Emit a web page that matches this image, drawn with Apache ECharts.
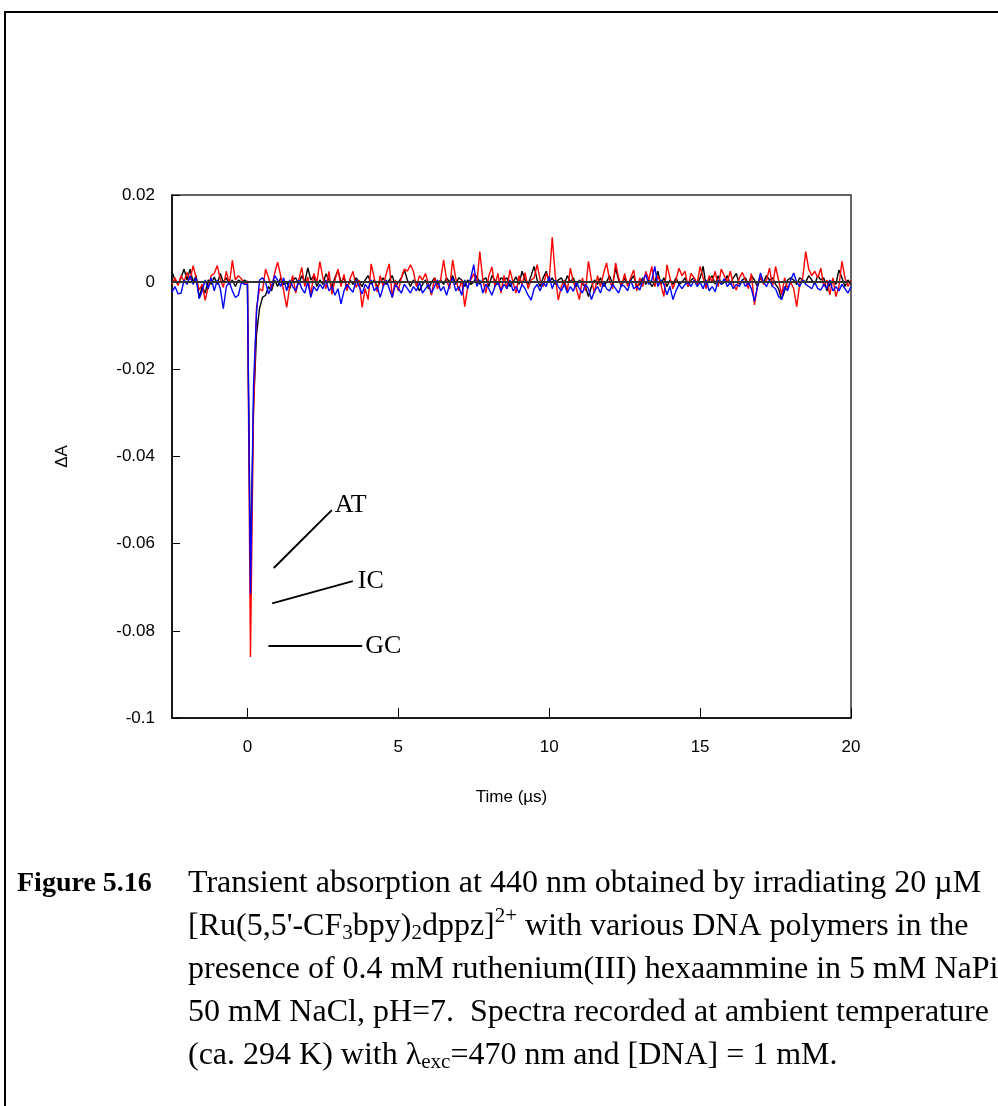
<!DOCTYPE html>
<html>
<head>
<meta charset="utf-8">
<script src="https://cdn.jsdelivr.net/npm/echarts@6/dist/echarts.min.js"></script>
<style>
  html, body { margin: 0; padding: 0; background: #ffffff; }
  #chart { width: 998px; height: 1106px; }
</style>
</head>
<body>
<div id="chart"></div>
<script>
// Transient absorption traces (ΔA in units of 1e-3), sampled every 0.1 µs starting at -2.5 µs
const sampleStart = -2.5;
const sampleStep = 0.1;

// GC polymer (red)
const gcMilli = [
  -0.5, 1.0, -0.8, 1.5, 0.2, 2.2, 0.5, 3.8, 1.0, -1.8,
  -0.5, -4.2, -1.0, 1.5, 2.0, 3.8, 0.8, -1.2, 2.5, -0.5,
  5.0, 0.5, 1.5, 0.8, -0.5, 0.3, -86.0, -30.0, -6.0, -1.5,
  -2.0, 3.0, 1.0, -1.5, 2.0, 4.6, 1.5, -2.0, -5.8, -1.0,
  1.5, -2.5, 0.5, 3.4, -1.0, 1.2, -3.0, 2.0, 0.0, 4.7,
  1.0, -1.5, 2.5, -2.8, 0.5, 3.0, -1.0, 1.8, -2.0, 0.8,
  2.5, -1.2, 0.5, -5.8, -1.5, -4.0, 4.2, 1.0, -2.2, 1.5,
  -1.0, 2.0, 4.2, -3.5, 0.5, -2.0, 1.0, 3.0, 2.5, 4.0,
  2.5, -1.0, 1.5, 0.5, 2.0, -0.5, -3.0, 1.0, -1.5, 0.5,
  5.1, 0.5, -1.5, 5.1, 1.0, -2.0, 0.5, -5.6, -1.0, 0.5,
  2.0, -0.5, 7.0, 0.5, -2.5, 1.5, 3.5, -1.0, 2.0, -2.5,
  1.5, -1.5, 2.8, 0.0, -2.5, 1.5, -0.5, 2.2, -1.5, 0.5,
  1.0, 4.0, 0.5, -1.0, 2.0, 0.5, 10.3, 1.5, -4.1, -1.0,
  0.5, -2.0, 3.2, 0.0, -1.5, -4.0, 1.0, -2.0, 4.8, 0.5,
  -2.5, 1.5, -1.0, 2.0, 4.4, 0.5, -1.5, 4.4, 1.0, -0.8,
  2.0, -1.0, 1.0, 2.8, -2.0, 1.0, -1.0, 2.5, 0.5, 3.6,
  -1.0, 1.5, -0.5, -3.3, 4.0, 1.0, -1.5, 0.5, 3.2, 1.5,
  2.5, -1.0, 2.0, 1.0, -0.5, 3.6, 1.0, -1.5, 1.5, 0.0,
  2.5, -1.0, 3.0, 1.5, 0.0, 2.5, -0.5, -1.8, 1.0, 2.2,
  0.5, -1.5, 2.0, -5.2, -1.0, 1.5, -0.5, 0.5, 3.2, -1.0,
  3.6, 0.5, -2.9, 1.0, -1.5, 0.0, -1.5, -5.6, -0.5, 1.0,
  7.0, 3.0, 1.5, 2.5, 1.0, 3.2, -1.0, 0.5, -2.9, 1.0,
  -3.3, -1.0, 4.8, 1.0, -1.0, 0.5
];

// IC polymer (blue)
const icMilli = [
  -2.3, -1.0, -2.7, -2.5, 0.5, -0.5, 1.5, -0.5, 1.0, -3.8,
  -2.0, 0.5, -1.5, 1.0, -2.0, 0.5, -1.5, -6.1, -1.0, 0.0,
  -2.0, -3.5, -3.0, 0.0, -0.5, -0.5, -71.5, -24.0, -7.0, 0.5,
  1.0, 0.0, -2.7, -1.0, 1.5, 0.5, -1.0, 1.0, -2.0, 0.5,
  -1.0, -2.0, 0.5, -1.5, -2.5, 0.0, -3.5, -1.0, -2.0, -0.5,
  -1.5, 0.5, -2.0, -1.0, -3.0, -1.5, -5.0, -2.0, -0.5, -1.5,
  -2.3, 0.5, -1.0, -2.7, -0.5, -1.5, 0.5, -2.0, -1.0, -3.5,
  -1.0, 0.5, -1.5, -3.5, -0.5, -1.5, -2.5, -0.5, -1.5, -2.5,
  -1.0, -2.0, 0.0, -2.5, -1.5, -0.5, -2.5, -1.0, 0.5, -2.0,
  -1.0, -3.0, -0.5, 1.0, -2.0, -1.0, -3.0, 0.5, -1.5, 1.0,
  4.0, -1.0, 0.5, -2.5, -0.5, -1.5, -3.0, -1.0, 0.0, -2.0,
  -0.5, -1.5, 0.5, -2.0, -1.0, -2.5, -0.5, -1.5, -3.0, -4.1,
  -1.5, -0.5, -2.0, 0.0, -1.0, 1.3, -1.5, 0.5, -1.0, -2.0,
  -0.5, -2.5, -1.0, -2.1, 0.0, -1.5, -2.5, -0.5, -1.5, -4.0,
  -2.0, -1.0, -2.5, 0.0, -1.5, -2.0, -0.5, -1.5, -2.5, -0.5,
  -1.0, -2.0, 0.5, -1.5, -1.0, -1.8, 0.5, 1.7, -0.5, 0.5,
  3.6, -1.0, 0.5, -0.5, -2.9, -1.0, -4.0, -2.0, -0.5, -1.5,
  -0.5, 0.0, -1.0, 0.5, -1.0, 0.0, -1.5, 0.5, -2.0, -1.0,
  -2.2, 0.5, -0.5, 0.8, -1.0, 0.0, -1.5, -0.5, -1.0, 0.5,
  -1.0, 0.0, -1.5, -4.4, -1.0, 2.1, 0.0, -1.0, 0.5, -1.0,
  -1.5, -3.3, -4.0, -1.0, -2.0, 0.5, 2.1, 0.0, -1.0, 0.5,
  -0.5, -1.0, -1.5, 0.0, -1.5, -1.8, -0.5, -1.5, 0.5, -2.0,
  -1.0, -2.0, -0.5, -1.5, -2.5, -1.0
];

// AT polymer (black)
const atMilli = [
  2.3, 0.5, -0.5, 1.0, 3.0, 0.5, 3.0, 0.0, 1.5, -3.5,
  -1.0, -2.5, 0.5, -0.5, 1.2, -0.5, 2.0, 0.0, 1.0, -0.5,
  0.5, -1.0, 0.5, 0.0, 0.5, 0.0, -66.0, -29.0, -12.0, -6.0,
  -3.5, -3.0, -1.0, -2.0, 0.5, -1.0, 1.0, -0.5, 0.0, -1.5,
  0.5, 1.0, -0.5, 1.5, 0.0, 3.3, 0.5, 1.5, -1.0, 0.5,
  -0.5, 1.9, 0.5, -1.0, 1.0, 2.7, 0.0, 1.0, -1.5, 0.5,
  -0.5, 1.0, 0.0, -1.0, 0.5, 1.5, -0.5, 0.5, -1.0, 0.0,
  1.0, -0.5, 0.5, 1.5, -1.0, 0.0, 1.0, 2.8, 0.5, -1.0,
  0.5, -0.5, -2.0, -0.5, 0.5, -1.5, 0.0, 1.0, -0.5, 0.5,
  -0.5, 1.0, 0.0, 1.5, -0.5, 1.0, 0.5, -1.0, 0.5, -0.5,
  0.0, 1.5, -0.5, 0.5, 1.0, -1.0, 1.5, 0.5, -0.5, 1.0,
  0.5, 1.0, -1.0, 0.0, 1.2, -0.5, 2.5, 0.5, -0.5, 1.5,
  3.6, 0.5, -1.0, 1.0, 2.5, 0.0, 1.0, -0.5, 0.5, 1.0,
  -0.5, 1.5, 0.0, 1.0, -1.0, 0.5, -0.5, -1.0, -3.3, -1.0,
  0.5, -0.5, 1.0, -1.0, 0.0, 1.5, -0.5, 3.2, 0.5, -1.0,
  1.0, -0.5, 0.5, 1.5, -1.0, -0.5, 1.0, -0.5, 0.5, -1.0,
  0.0, 2.5, -0.5, 1.0, -1.0, 0.5, -0.5, 1.0, -0.5, 0.0,
  1.0, -1.0, 0.5, 1.0, -0.5, 1.0, 3.6, -1.0, 0.5, 1.5,
  -0.5, 1.5, -0.5, 0.0, 1.5, -0.5, 1.0, 2.0, -0.5, 0.5,
  1.0, -0.5, 1.5, 0.5, -1.0, 1.0, 0.0, 1.5, 0.5, 1.0,
  -0.5, -1.5, -4.0, -2.0, 0.5, 1.0, 0.5, -0.5, 1.0, 0.5,
  0.0, 1.5, 0.5, -0.5, 1.5, 0.5, 1.0, -2.0, -0.5, 0.5,
  -0.5, 2.8, 1.0, -1.0, 0.5, -0.5
];

const xTickValues = [0, 5, 10, 15, 20];

// Leader lines naming each trace near the bleach minimum (time in µs, ΔA)
const traceTags = [
  { name: 'AT', from: [0.872, -0.0656], to: [2.796, -0.0523], dist: 3, dy: -5 },
  { name: 'IC', from: [0.819, -0.0737], to: [3.492, -0.0686], dist: 5, dy: 0 },
  { name: 'GC', from: [0.697, -0.0835], to: [3.804, -0.0835], dist: 3, dy: 0 }
];

function toPairs(milli) {
  return milli.map((v, i) => [
    Math.round((sampleStart + i * sampleStep) * 10) / 10,
    v / 1000
  ]);
}

const sansFont = '"Liberation Sans", Arial, sans-serif';
const serifFont = '"Liberation Serif", "Times New Roman", serif';

function traceSeries(name, milli, color) {
  return {
    name: name,
    type: 'line',
    data: toPairs(milli),
    showSymbol: false,
    symbol: 'none',
    lineStyle: { color: color, width: 1.4 },
    itemStyle: { color: color },
    animation: false,
    silent: true
  };
}

const tagSeries = traceTags.map(t => ({
  type: 'line',
  data: [t.from, t.to],
  symbol: 'none',
  lineStyle: { color: '#000', width: 2 },
  animation: false,
  silent: true,
  z: 6,
  endLabel: {
    show: true,
    formatter: () => t.name,
    distance: t.dist,
    offset: [0, t.dy],
    fontFamily: serifFont,
    fontSize: 26,
    color: '#000'
  }
}));

const chart = echarts.init(document.getElementById('chart'), null, { renderer: 'canvas' });

chart.setOption({
  backgroundColor: '#ffffff',
  animation: false,
  grid: {
    left: 172, right: 147, top: 195, bottom: 388,
    show: true, borderColor: '#333', borderWidth: 1.5, backgroundColor: 'transparent'
  },
  xAxis: {
    type: 'value',
    min: -2.5, max: 20,
    name: 'Time (µs)',
    nameLocation: 'middle',
    nameGap: 71,
    nameTextStyle: { fontFamily: sansFont, fontSize: 17, color: '#000' },
    splitLine: { show: false },
    axisLine: { onZero: false, lineStyle: { color: '#000', width: 1.5 } },
    axisTick: { inside: true, length: 10, customValues: xTickValues, lineStyle: { color: '#000', width: 1 } },
    axisLabel: { customValues: xTickValues, margin: 21, fontFamily: sansFont, fontSize: 17, color: '#000' }
  },
  yAxis: {
    type: 'value',
    min: -0.1, max: 0.02, interval: 0.02,
    name: 'ΔA',
    nameLocation: 'middle',
    nameGap: 101,
    nameTextStyle: { fontFamily: sansFont, fontSize: 17, color: '#000' },
    splitLine: { show: false },
    axisLine: { onZero: false, lineStyle: { color: '#000', width: 1.5 } },
    axisTick: { inside: true, length: 8, lineStyle: { color: '#000', width: 1 } },
    axisLabel: { margin: 17, fontFamily: sansFont, fontSize: 17, color: '#000' }
  },
  series: [
    traceSeries('AT', atMilli, '#000000'),
    traceSeries('GC', gcMilli, '#ff0000'),
    traceSeries('IC', icMilli, '#0000ff'),
    {
      name: 'baseline',
      type: 'line',
      data: [],
      z: 5,
      silent: true,
      animation: false,
      markLine: {
        silent: true,
        symbol: 'none',
        animation: false,
        label: { show: false },
        lineStyle: { color: '#333', width: 2, type: 'solid' },
        data: [{ yAxis: 0 }]
      }
    },
    ...tagSeries
  ],
  graphic: [
    {
      type: 'rect',
      shape: { x: 5, y: 12, width: 1100, height: 1200 },
      style: { fill: 'none', stroke: '#000', lineWidth: 2 },
      silent: true
    },
    {
      type: 'text',
      x: 17, y: 862,
      style: {
        text: 'Figure 5.16',
        fontFamily: serifFont, fontSize: 28, fontWeight: 'bold',
        lineHeight: 43, fill: '#000'
      },
      silent: true
    },
    {
      type: 'text',
      x: 188, y: 862,
      style: {
        text: [
          'Transient absorption at 440 nm obtained by irradiating 20 µM',
          "[Ru(5,5'-CF{sub|3}bpy){sub|2}dppz]{sup|2+} with various DNA polymers in the",
          'presence of 0.4 mM ruthenium(III) hexaammine in 5 mM NaPi',
          '50 mM NaCl, pH=7.  Spectra recorded at ambient temperature',
          '(ca. 294 K) with λ{sub|exc}=470 nm and [DNA] = 1 mM.'
        ].join('\n'),
        fontFamily: serifFont, fontSize: 32, lineHeight: 43, fill: '#000',
        rich: {
          sub: { fontFamily: serifFont, fontSize: 21, lineHeight: 21, verticalAlign: 'top', padding: [18, 0, 0, 0] },
          sup: { fontFamily: serifFont, fontSize: 21, lineHeight: 21, verticalAlign: 'top', padding: [1, 0, 0, 0] }
        }
      },
      silent: true
    }
  ]
});
</script>
</body>
</html>
